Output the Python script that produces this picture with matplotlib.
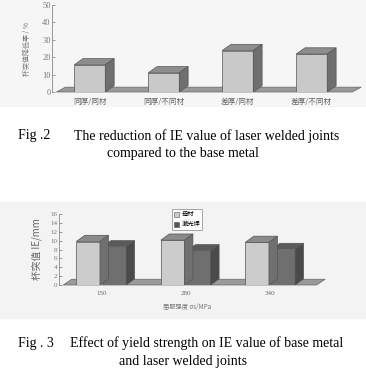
import numpy as np
import matplotlib.pyplot as plt
import matplotlib
from matplotlib.patches import Rectangle, Polygon

matplotlib.rcParams['font.family'] = ['Noto Sans CJK SC', 'DejaVu Sans']

# Fig.2 data
cats2 = ['同厚/同材', '同厚/不同材', '差厚/同材', '差厚/不同材']
vals2 = [15.6, 11.0, 23.8, 21.8]

# Fig.3 data
cats3 = ['150', '280', '340']
base3 = [9.8, 10.1, 9.6]
weld3 = [8.6, 7.7, 8.0]
legend3 = ['母材', '激光焊']

W, H = 366, 379
fig = plt.figure(figsize=(W/100, H/100), dpi=100)
fig.patch.set_facecolor('white')

def px_axes(l, t, r, b):
    return fig.add_axes([l/W, 1-b/H, (r-l)/W, (b-t)/H])

# light scan backgrounds
fig.add_artist(Rectangle((0, 1-106/H), 1, 106/H, transform=fig.transFigure,
                         color='#f6f6f6', zorder=-5))
fig.add_artist(Rectangle((0, 1-318/H), 1, 116/H, transform=fig.transFigure,
                         color='#f3f3f3', zorder=-5))

def bar3d(ax, x, w, h, dx, dy, front, top, side):
    ax.bar(x, h, w, color=front, edgecolor='#555555', linewidth=0.5, zorder=3)
    ax.add_patch(Polygon([(x-w/2, h), (x+w/2, h), (x+w/2+dx, h+dy), (x-w/2+dx, h+dy)],
                         closed=True, facecolor=top, edgecolor='#555555', lw=0.5, zorder=3))
    ax.add_patch(Polygon([(x+w/2, 0), (x+w/2+dx, dy), (x+w/2+dx, h+dy), (x+w/2, h)],
                         closed=True, facecolor=side, edgecolor='#555555', lw=0.5, zorder=3))

def floor(ax, x0, x1, dx, dy):
    ax.add_patch(Polygon([(x0, 0), (x1, 0), (x1+dx, dy), (x0+dx, dy)], closed=True,
                         facecolor='#9a9a9a', edgecolor='#666666', lw=0.5, zorder=2,
                         clip_on=False))

def style(ax, ymax, step, fs):
    ax.set_facecolor('none')
    for s in ['top', 'right', 'bottom']:
        ax.spines[s].set_visible(False)
    ax.spines['left'].set_color('#888888')
    ax.spines['left'].set_linewidth(0.6)
    ax.set_ylim(0, ymax)
    ax.set_yticks(np.arange(0, ymax+1, step))
    ax.tick_params(axis='y', direction='in', length=2, width=0.5, colors='#777777',
                   labelsize=fs, pad=1)
    ax.tick_params(axis='x', length=0, labelsize=fs, colors='#666666', pad=4)

cap = dict(fontsize=10, family='Liberation Serif', va='center')

# ---- Fig.2 chart ----
ax1 = px_axes(52, 5, 345, 92)
style(ax1, 50, 10, 6)
x1 = np.arange(len(cats2))
ax1.set_xlim(-0.51, 3.45)
floor(ax1, -0.45, 3.55, 0.12, 2.8)
for xi, v in zip(x1, vals2):
    bar3d(ax1, xi, 0.42, v, 0.12, 3.6, '#c9c9c9', '#8d8d8d', '#6f6f6f')
ax1.set_xticks(x1)
ax1.set_xticklabels(cats2, fontsize=5.5)
for lab in ax1.get_yticklabels():
    lab.set_family('Liberation Serif')
ax1.set_ylabel('杯突值降低率 / %', fontsize=5, color='#777777', labelpad=8)

fig.text(18/W, 1-136/H, 'Fig .2', **cap)
fig.text(74/W, 1-136/H, 'The reduction of IE value of laser welded joints', **cap)
fig.text(0.5, 1-154/H, 'compared to the base metal', ha='center',
         **{k: v for k, v in cap.items()})

# ---- Fig.3 chart ----
ax2 = px_axes(59, 214, 315, 285)
style(ax2, 16, 2, 5)
x2 = np.arange(len(cats3))
ax2.set_xlim(-0.5, 2.53)
floor(ax2, -0.45, 2.55, 0.1, 1.3)
for xi, b, w in zip(x2, base3, weld3):
    bar3d(ax2, xi+0.155, 0.28, w, 0.1, 1.4, '#6f6f6f', '#5a5a5a', '#4a4a4a')
    bar3d(ax2, xi-0.155, 0.28, b, 0.1, 1.4, '#cccccc', '#8a8a8a', '#707070')
ax2.set_xticks(x2)
ax2.set_xticklabels(cats3, fontsize=5)
for lab in ax2.get_yticklabels() + ax2.get_xticklabels():
    lab.set_family('Liberation Serif')
ax2.set_ylabel('杯突值 IE/mm', fontsize=7, color='#666666', labelpad=6)
ax2.set_xlabel('屈服强度 σs/MPa', fontsize=4.5, color='#777777', labelpad=5)
h1 = Rectangle((0, 0), 1, 1, facecolor='#cccccc', edgecolor='#555555', lw=0.4)
h2 = Rectangle((0, 0), 1, 1, facecolor='#555555', edgecolor='#555555', lw=0.4)
leg = ax2.legend([h1, h2], legend3, loc='upper center', bbox_to_anchor=(0.5, 1.12),
                 fontsize=4.5, frameon=True, fancybox=False, handlelength=0.8,
                 handleheight=0.8, handletextpad=0.4, borderpad=0.3, labelspacing=0.3)
leg.get_frame().set_edgecolor('#666666')
leg.get_frame().set_linewidth(0.5)

fig.text(18/W, 1-343/H, 'Fig . 3', **cap)
fig.text(70/W, 1-343/H, 'Effect of yield strength on IE value of base metal', **cap)
fig.text(0.5, 1-361/H, 'and laser welded joints', ha='center', **cap)

fig.savefig('out.png', dpi=100)
